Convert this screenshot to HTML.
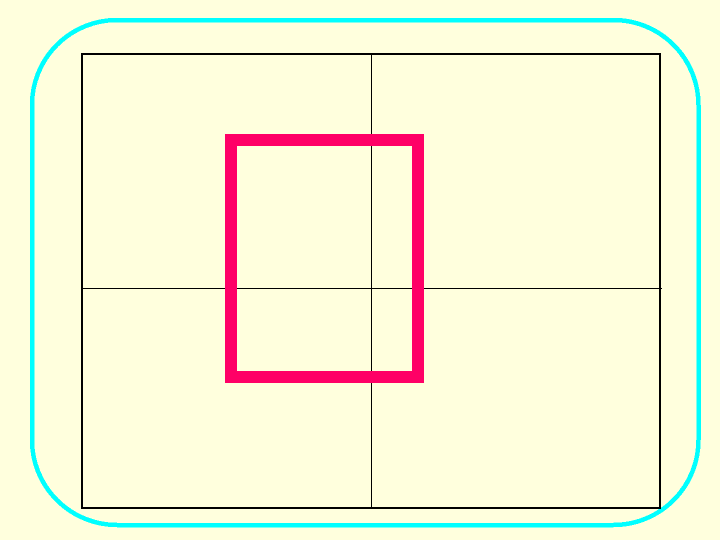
<!DOCTYPE html>
<html lang="en">
<head>
<meta charset="utf-8">
<title>Chart</title>
<style>
html,body{margin:0;padding:0;background:#ffffdd;}
svg{display:block;}
</style>
</head>
<body>
<svg width="720" height="540" viewBox="0 0 720 540" xmlns="http://www.w3.org/2000/svg" shape-rendering="crispEdges">
  <rect x="0" y="0" width="720" height="540" fill="#ffffdd"/>
  <rect x="32" y="20" width="666.5" height="505" rx="85" ry="85" fill="none" stroke="#00ffff" stroke-width="4.5"/>
  <rect x="371" y="54" width="1" height="454" fill="#000000"/>
  <rect x="82" y="288" width="580" height="1" fill="#000000"/>
  <rect x="82" y="54" width="578" height="454" fill="none" stroke="#000000" stroke-width="2"/>
  <rect x="231" y="140" width="187" height="237" fill="none" stroke="#ff0066" stroke-width="12"/>
</svg>
</body>
</html>
